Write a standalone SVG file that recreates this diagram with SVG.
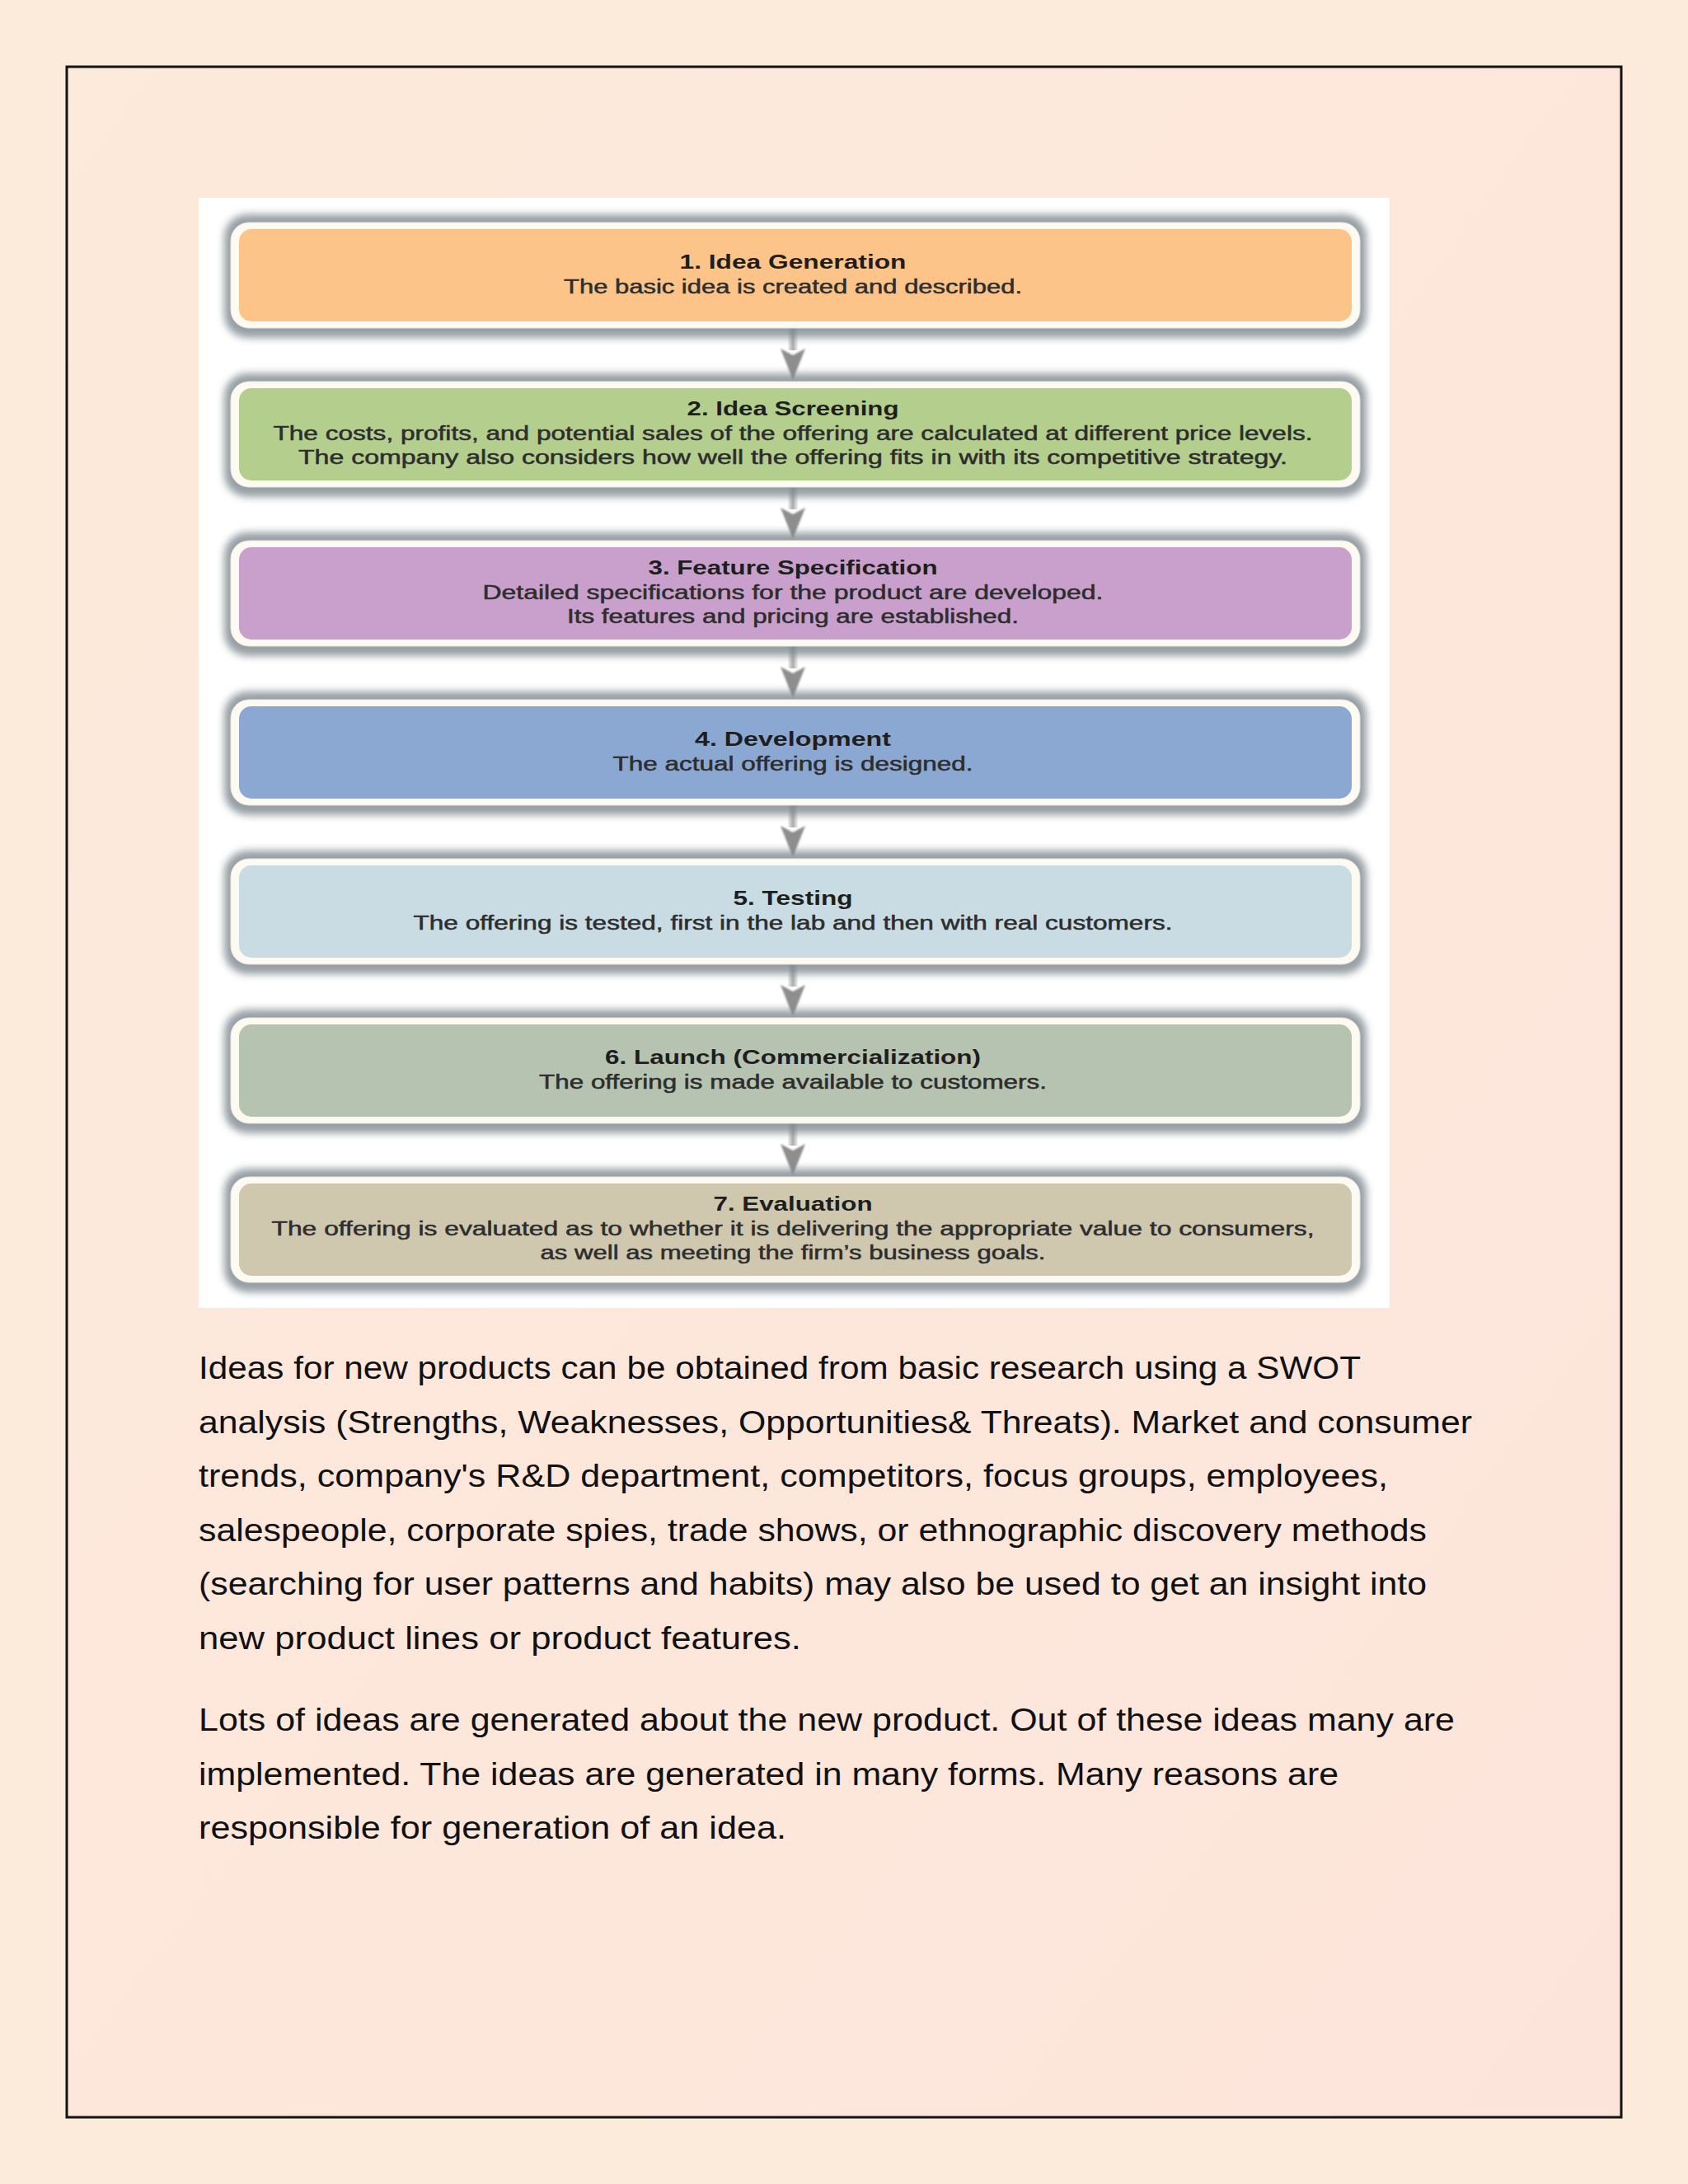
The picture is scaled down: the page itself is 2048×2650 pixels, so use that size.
<svg xmlns="http://www.w3.org/2000/svg" width="2048" height="2650" viewBox="0 0 2048 2650">
<defs>
<linearGradient id="pageGrad" x1="0" y1="0" x2="1" y2="1">
<stop offset="0" stop-color="#FCEADA"/>
<stop offset="1" stop-color="#FDE4DA"/>
</linearGradient>
<linearGradient id="shaftGrad" x1="0" y1="0" x2="1" y2="0">
<stop offset="0" stop-color="#f4f4f4"/>
<stop offset="0.5" stop-color="#a9a9a9"/>
<stop offset="1" stop-color="#f4f4f4"/>
</linearGradient>
<filter id="blur" x="-5%" y="-30%" width="110%" height="160%">
<feGaussianBlur stdDeviation="5"/>
</filter>
<filter id="soft" x="-50%" y="-20%" width="200%" height="140%">
<feGaussianBlur stdDeviation="1"/>
</filter>
</defs>
<style>
.shadow{fill:#7d878f;opacity:0.8;filter:url(#blur)}
.ring{fill:#fdfaf2;stroke:#e6e6e2;stroke-width:1}
.title{font-family:"Liberation Sans",Arial,sans-serif;font-size:24px;font-weight:bold;fill:#1e1e1e;text-anchor:middle}
.body{font-family:"Liberation Sans",Arial,sans-serif;font-size:23px;fill:#2d2d2d;stroke:#2d2d2d;stroke-width:0.5;text-anchor:middle}
.para{font-family:"Liberation Sans",Arial,sans-serif;font-size:38px;fill:#111111}
.head{fill:#8e8e8e;filter:url(#soft)}
</style>
<rect x="0" y="0" width="2048" height="2650" fill="#FCEBDB"/>
<rect x="81" y="81" width="1886" height="2488" fill="url(#pageGrad)" stroke="#141414" stroke-width="3"/>
<rect x="241" y="240" width="1445" height="1347" fill="#ffffff"/>

<g id="connectors">
<rect x="956" y="395" width="12" height="30" fill="url(#shaftGrad)"/>
<path class="head" d="M947,423 L962,431 L977,423 L962,461 Z"/>
<rect x="956" y="588" width="12" height="30" fill="url(#shaftGrad)"/>
<path class="head" d="M947,616 L962,624 L977,616 L962,654 Z"/>
<rect x="956" y="781" width="12" height="30" fill="url(#shaftGrad)"/>
<path class="head" d="M947,809 L962,817 L977,809 L962,847 Z"/>
<rect x="956" y="974" width="12" height="30" fill="url(#shaftGrad)"/>
<path class="head" d="M947,1002 L962,1010 L977,1002 L962,1040 Z"/>
<rect x="956" y="1167" width="12" height="30" fill="url(#shaftGrad)"/>
<path class="head" d="M947,1195 L962,1203 L977,1195 L962,1233 Z"/>
<rect x="956" y="1360" width="12" height="30" fill="url(#shaftGrad)"/>
<path class="head" d="M947,1388 L962,1396 L977,1388 L962,1426 Z"/>
</g>

<g id="node1">
<rect class="shadow" x="272" y="260" width="1386" height="150" rx="28"/>
<rect class="ring" x="280" y="270" width="1370" height="128" rx="22"/>
<rect x="290" y="278" width="1350" height="112" rx="15" fill="#FDC489"/>
<text class="title" x="962" y="326" textLength="275" lengthAdjust="spacingAndGlyphs">1. Idea Generation</text>
<text class="body" x="962" y="356" textLength="556" lengthAdjust="spacingAndGlyphs">The basic idea is created and described.</text>
</g>

<g id="node2">
<rect class="shadow" x="272" y="453" width="1386" height="150" rx="28"/>
<rect class="ring" x="280" y="463" width="1370" height="128" rx="22"/>
<rect x="290" y="471" width="1350" height="112" rx="15" fill="#B4CE8D"/>
<text class="title" x="962" y="504" textLength="257" lengthAdjust="spacingAndGlyphs">2. Idea Screening</text>
<text class="body" x="962" y="534" textLength="1261" lengthAdjust="spacingAndGlyphs">The costs, profits, and potential sales of the offering are calculated at different price levels.</text>
<text class="body" x="962" y="563" textLength="1200" lengthAdjust="spacingAndGlyphs">The company also considers how well the offering fits in with its competitive strategy.</text>
</g>

<g id="node3">
<rect class="shadow" x="272" y="646" width="1386" height="150" rx="28"/>
<rect class="ring" x="280" y="656" width="1370" height="128" rx="22"/>
<rect x="290" y="664" width="1350" height="112" rx="15" fill="#C8A0CB"/>
<text class="title" x="962" y="697" textLength="351" lengthAdjust="spacingAndGlyphs">3. Feature Specification</text>
<text class="body" x="962" y="727" textLength="753" lengthAdjust="spacingAndGlyphs">Detailed specifications for the product are developed.</text>
<text class="body" x="962" y="756" textLength="548" lengthAdjust="spacingAndGlyphs">Its features and pricing are established.</text>
</g>

<g id="node4">
<rect class="shadow" x="272" y="839" width="1386" height="150" rx="28"/>
<rect class="ring" x="280" y="849" width="1370" height="128" rx="22"/>
<rect x="290" y="857" width="1350" height="112" rx="15" fill="#8BA8D3"/>
<text class="title" x="962" y="905" textLength="238" lengthAdjust="spacingAndGlyphs">4. Development</text>
<text class="body" x="962" y="935" textLength="437" lengthAdjust="spacingAndGlyphs">The actual offering is designed.</text>
</g>

<g id="node5">
<rect class="shadow" x="272" y="1032" width="1386" height="150" rx="28"/>
<rect class="ring" x="280" y="1042" width="1370" height="128" rx="22"/>
<rect x="290" y="1050" width="1350" height="112" rx="15" fill="#C9DCE4"/>
<text class="title" x="962" y="1098" textLength="145" lengthAdjust="spacingAndGlyphs">5. Testing</text>
<text class="body" x="962" y="1128" textLength="921" lengthAdjust="spacingAndGlyphs">The offering is tested, first in the lab and then with real customers.</text>
</g>

<g id="node6">
<rect class="shadow" x="272" y="1225" width="1386" height="150" rx="28"/>
<rect class="ring" x="280" y="1235" width="1370" height="128" rx="22"/>
<rect x="290" y="1243" width="1350" height="112" rx="15" fill="#B5C3B0"/>
<text class="title" x="962" y="1291" textLength="456" lengthAdjust="spacingAndGlyphs">6. Launch (Commercialization)</text>
<text class="body" x="962" y="1321" textLength="616" lengthAdjust="spacingAndGlyphs">The offering is made available to customers.</text>
</g>

<g id="node7">
<rect class="shadow" x="272" y="1418" width="1386" height="150" rx="28"/>
<rect class="ring" x="280" y="1428" width="1370" height="128" rx="22"/>
<rect x="290" y="1436" width="1350" height="112" rx="15" fill="#CFC8AF"/>
<text class="title" x="962" y="1469" textLength="193" lengthAdjust="spacingAndGlyphs">7. Evaluation</text>
<text class="body" x="962" y="1499" textLength="1265" lengthAdjust="spacingAndGlyphs">The offering is evaluated as to whether it is delivering the appropriate value to consumers,</text>
<text class="body" x="962" y="1528" textLength="613" lengthAdjust="spacingAndGlyphs">as well as meeting the firm’s business goals.</text>
</g>

<g id="paragraphs">
<text class="para" x="241" y="1673" textLength="1410" lengthAdjust="spacingAndGlyphs">Ideas for new products can be obtained from basic research using a SWOT</text>
<text class="para" x="241" y="1739" textLength="1545" lengthAdjust="spacingAndGlyphs">analysis (Strengths, Weaknesses, Opportunities&amp; Threats). Market and consumer</text>
<text class="para" x="241" y="1804" textLength="1443" lengthAdjust="spacingAndGlyphs">trends, company's R&amp;D department, competitors, focus groups, employees,</text>
<text class="para" x="241" y="1870" textLength="1490" lengthAdjust="spacingAndGlyphs">salespeople, corporate spies, trade shows, or ethnographic discovery methods</text>
<text class="para" x="241" y="1935" textLength="1490" lengthAdjust="spacingAndGlyphs">(searching for user patterns and habits) may also be used to get an insight into</text>
<text class="para" x="241" y="2001" textLength="731" lengthAdjust="spacingAndGlyphs">new product lines or product features.</text>
<text class="para" x="241" y="2100" textLength="1524" lengthAdjust="spacingAndGlyphs">Lots of ideas are generated about the new product. Out of these ideas many are</text>
<text class="para" x="241" y="2166" textLength="1383" lengthAdjust="spacingAndGlyphs">implemented. The ideas are generated in many forms. Many reasons are</text>
<text class="para" x="241" y="2231" textLength="713" lengthAdjust="spacingAndGlyphs">responsible for generation of an idea.</text>
</g>
</svg>
